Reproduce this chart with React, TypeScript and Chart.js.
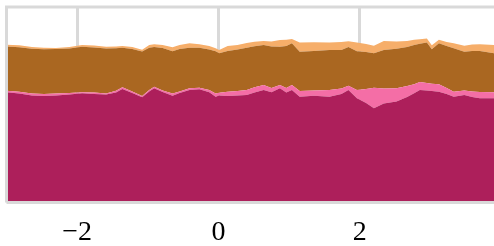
import React, { useEffect, useRef } from "react";
import { Chart, registerables } from "chart.js";

Chart.register(...registerables);

const xValues = [
  -3.0, -2.82, -2.64, -2.47, -2.3, -2.11, -1.93, -1.76, -1.59, -1.45, -1.36, -1.22, -1.08, -0.98, -0.91,
  -0.79, -0.65, -0.55, -0.41, -0.27, -0.13, -0.04, 0.01, 0.13, 0.27, 0.4, 0.51, 0.64, 0.75, 0.87, 0.96,
  1.04, 1.15, 1.35, 1.57, 1.74, 1.84, 1.96, 2.09, 2.2, 2.34, 2.52, 2.67, 2.77, 2.85, 2.95, 3.02, 3.12,
  3.23, 3.33, 3.48, 3.59, 3.7, 3.9,
];

const magentaValues = [
  56.4, 55.8, 54.7, 54.5, 54.7, 55.2, 55.9, 55.5, 55.3, 56.3, 58.1, 56.0, 53.8, 56.8, 58.4,
  56.5, 54.6, 56.0, 57.5, 57.9, 56.4, 54.1, 54.7, 54.5, 54.7, 55.0, 56.3, 57.5, 56.4, 58.4, 56.3,
  57.5, 54.1, 54.6, 54.1, 55.5, 57.5, 53.3, 50.9, 48.2, 50.7, 51.6, 54.0, 55.9, 57.5, 57.3, 57.0, 56.7,
  55.5, 54.1, 55.0, 54.0, 53.3, 53.3,
];

const pinkValues = [
  0.7, 0.8, 1.0, 1.0, 1.0, 0.8, 0.5, 0.8, 0.5, 0.8, 0.9, 0.8, 0.7, 0.8, 0.8,
  0.8, 1.2, 0.8, 0.9, 0.8, 1.2, 1.7, 1.5, 2.2, 2.3, 2.6, 2.6, 2.6, 2.2, 1.7, 2.3,
  2.6, 2.9, 2.7, 3.4, 2.8, 2.2, 4.2, 7.2, 10.5, 7.6, 6.8, 5.6, 4.6, 4.2, 3.8, 3.8, 3.8,
  3.1, 2.6, 2.3, 2.8, 3.2, 3.1,
];

const brownValues = [
  22.7, 22.8, 23.0, 22.9, 22.8, 22.8, 23.3, 23.0, 23.0, 21.8, 20.1, 21.7, 22.7, 21.6, 20.3,
  21.7, 21.6, 21.7, 20.8, 20.5, 20.7, 21.6, 20.1, 20.8, 21.2, 21.6, 21.0, 20.5, 21.2, 19.6, 21.5,
  21.3, 20.1, 20.2, 20.5, 19.7, 19.9, 19.9, 18.9, 17.6, 19.7, 20.2, 19.9, 20.1, 19.5, 20.8, 17.6, 21.0,
  21.5, 22.2, 19.8, 20.7, 21.0, 19.9,
];

const orangeValues = [
  0.9, 1.0, 0.8, 0.7, 0.5, 0.8, 0.9, 1.0, 0.9, 0.9, 1.0, 1.0, 0.9, 1.4, 1.4,
  1.5, 2.0, 2.0, 2.3, 1.7, 1.8, 1.5, 1.7, 2.6, 2.3, 2.4, 2.3, 2.0, 2.6, 3.4, 3.1,
  2.2, 4.8, 4.5, 3.9, 4.1, 2.9, 4.5, 4.1, 3.9, 4.6, 3.7, 3.1, 2.6, 2.3, 2.0, 2.0, 1.7,
  2.0, 2.6, 3.1, 3.3, 3.4, 4.2,
];

const tickValues = [-2, 0, 2];
const tickLabels = ["\u22122", "0", "2"];

const seriesColors = ["#ad1f5b", "#f46ea6", "#aa6721", "#f6ae6a"];

const frameColor = "#d9d9d9";

const framePlugin = {
  id: "frame",
  afterDatasetsDraw(chart: any) {
    const { ctx, chartArea } = chart;
    ctx.save();
    ctx.strokeStyle = frameColor;
    ctx.lineWidth = 3;
    ctx.beginPath();
    ctx.moveTo(chartArea.left, chartArea.bottom);
    ctx.lineTo(chartArea.left, chartArea.top);
    ctx.lineTo(chartArea.right + 10, chartArea.top);
    ctx.moveTo(chartArea.left, chartArea.bottom);
    ctx.lineTo(chartArea.right + 10, chartArea.bottom);
    ctx.stroke();
    ctx.restore();
  },
};

export default function App() {
  const canvasRef = useRef<HTMLCanvasElement | null>(null);

  useEffect(() => {
    if (!canvasRef.current) return;
    const series = [magentaValues, pinkValues, brownValues, orangeValues];
    const chart = new Chart(canvasRef.current, {
      type: "line",
      data: {
        datasets: series.map((vals, i) => ({
          data: vals.map((v, j) => ({ x: xValues[j], y: v })),
          backgroundColor: seriesColors[i],
          borderColor: seriesColors[i],
          borderWidth: 0,
          pointRadius: 0,
          tension: 0,
          fill: i === 0 ? "origin" : "-1",
        })),
      },
      options: {
        responsive: false,
        animation: false,
        layout: { padding: { left: 6.5, top: 7, right: 0, bottom: 0 } },
        plugins: { legend: { display: false }, tooltip: { enabled: false } },
        scales: {
          x: {
            type: "linear",
            min: -3,
            max: 3.9,
            afterBuildTicks: (scale: any) => {
              scale.ticks = tickValues.map((v) => ({ value: v }));
            },
            afterFit: (scale: any) => {
              scale.height = 43.5;
            },
            grid: { color: frameColor, lineWidth: 3, drawTicks: false },
            border: { display: false },
            ticks: {
              padding: 13,
              color: "#000",
              font: { family: "'Liberation Serif', serif", size: 28, lineHeight: 1.2 },
              callback: (value: any) => {
                const idx = tickValues.indexOf(Number(value));
                return idx >= 0 ? tickLabels[idx] : "";
              },
            },
          },
          y: {
            display: false,
            stacked: true,
            min: 0,
            max: 100,
          },
        },
      },
      plugins: [framePlugin],
    });
    return () => chart.destroy();
  }, []);

  return (
    <div style={{ position: "fixed", left: 0, top: 0, width: 494, height: 246, background: "#fff" }}>
      <canvas ref={canvasRef} width={494} height={246} style={{ display: "block" }} />
    </div>
  );
}
